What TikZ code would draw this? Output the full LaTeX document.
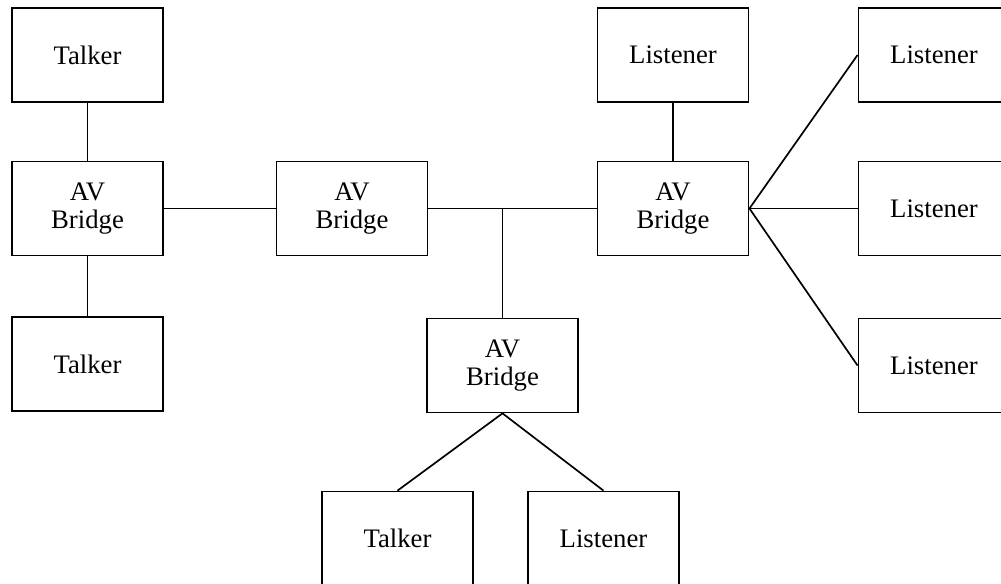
\documentclass[tikz,border=0pt]{standalone}
\usepackage{fontspec}
\setmainfont{Liberation Serif}
\usepackage{tikz}
\usetikzlibrary{positioning}

\begin{document}
\begin{tikzpicture}[x=0.025cm,y=-0.025cm,line width=1.2pt,
		every node/.style={draw=black,rectangle,minimum width=3.78cm,minimum height=2.35cm,
			align=center,font=\fontsize{19}{20}\selectfont,inner sep=0pt}]

		\clip (0,0) rectangle (1001,584);

		%left column
		\node (talk1) at (87.5,55) {Talker};
		\node (br1) at (87.5,208.5) {AV\\Bridge};
		\node (talk2) at (87.5,364) {Talker};

		%middle bridges
		\node (br2) at (352,208.5) {AV\\Bridge};
		\node (br4) at (502.5,365.5) {AV\\Bridge};
		\node (talk3) at (397.5,538.5) {Talker};
		\node (lis5) at (603.5,538.5) {Listener};

		%right bridge and listeners
		\node (lis1) at (673,55) {Listener};
		\node (br3) at (673,208.5) {AV\\Bridge};
		\node (lis2) at (934,55) {Listener};
		\node (lis3) at (934,208.5) {Listener};
		\node (lis4) at (934,365.5) {Listener};

		%edges
		\draw (talk1) -- (br1);
		\draw (br1) -- (talk2);
		\draw (br1) -- (br2);
		\draw (br2) -- (br3);
		\draw (br4.north) -- (br4.north |- br2.east);
		\draw (lis1) -- (br3);
		\draw (br3.east) -- (lis2.west);
		\draw (br3.east) -- (lis3.west);
		\draw (br3.east) -- (lis4.west);
		\draw (br4.south) -- (talk3.north);
		\draw (br4.south) -- (lis5.north);

\end{tikzpicture}
\end{document}
